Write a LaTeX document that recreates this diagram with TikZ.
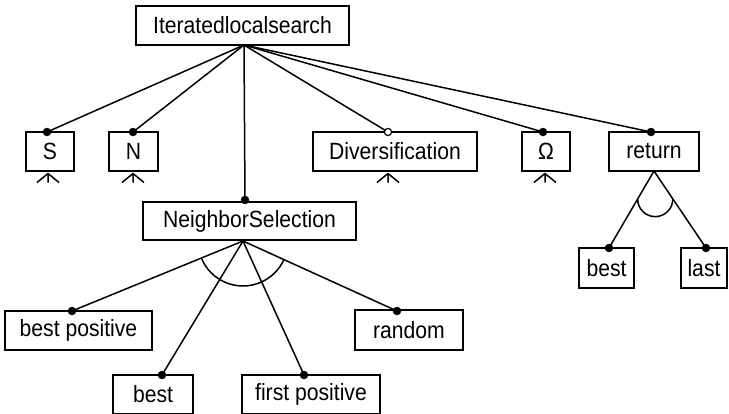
\documentclass[tikz,border=0pt]{standalone}
\usepackage{fontspec}
\setmainfont{Liberation Sans}[FakeStretch=0.9]
\usetikzlibrary{calc}
\begin{document}
\begin{tikzpicture}[x=1pt,y=1pt,
  box/.style={draw,line width=1.4pt,inner sep=0pt,minimum height=39pt,font=\fontsize{23.5}{27}\selectfont},
  conn/.style={line width=1.5pt},
  dotf/.style={fill=black,draw=black},
  doto/.style={fill=white,draw=black,line width=1.2pt}]
\useasboundingbox (0,0) rectangle (729,-413);
% boxes
\node[box,minimum width=213pt] (top) at (242.5,-25.5) {Iteratedlocalsearch};
\node[box,minimum width=48pt] (S) at (50,-151.5) {S};
\node[box,minimum width=49pt] (N) at (133.5,-151.5) {N};
\node[box,minimum width=164pt] (div) at (395,-151.5) {Diversification};
\node[box,minimum width=48pt] (om) at (546,-151.5) {Ω};
\node[box,minimum width=90pt] (ret) at (654,-151.5) {return};
\node[box,minimum width=213pt,minimum height=38pt] (ns) at (249.5,-221) {NeighborSelection};
\node[box,minimum width=147pt] (bp) at (78.5,-330.5) {best positive};
\node[box,minimum width=108pt,minimum height=40pt] (rnd) at (409,-330) {random};
\node[box,minimum width=80pt] (bst) at (153,-394.5) {best};
\node[box,minimum width=138pt] (fp) at (311,-394.5) {first positive};
\node[box,minimum width=55pt,minimum height=40pt] (rb) at (606.5,-268) {best};
\node[box,minimum width=46pt,minimum height=40pt] (rl) at (704,-268) {last};
% attachment points
\coordinate (ta) at (244,-45);
\coordinate (dS) at (47,-132);
\coordinate (dN) at (133,-132);
\coordinate (dD) at (388,-132);
\coordinate (dO) at (543,-132);
\coordinate (dR) at (651,-132);
\coordinate (dNS) at (245,-200);
\coordinate (na) at (243,-241);
\coordinate (dbp) at (72,-311);
\coordinate (drnd) at (397,-311);
\coordinate (dbst) at (162,-375);
\coordinate (dfp) at (304,-375);
\coordinate (ra) at (654,-171);
\coordinate (drb) at (609,-248);
\coordinate (drl) at (706,-248);
% connectors from top
\foreach \t in {dS,dN,dD,dO,dR,dNS} \draw[conn] (ta) -- (\t);
% NeighborSelection children
\foreach \t in {dbp,drnd,dbst,dfp} \draw[conn] (na) -- (\t);
\draw[conn] ($(na)!45pt!(dbp)$) arc[start angle=202.3,end angle=335.6,radius=45pt];
% return children
\foreach \t in {drb,drl} \draw[conn] (ra) -- (\t);
\draw[conn] ($(ra)!0.364!(drb)$) arc[start angle=180,end angle=360,radius=17.6pt];
% dots
\foreach \t in {dS,dN,dO,dR,dNS,dbp,drnd,dbst,dfp,drb,drl} \fill[dotf] (\t) circle (4pt);
\draw[doto] (dD) circle (3.6pt);
% crow's feet
\foreach \xx/\nm in {48/S,133/N,388/div,545/om} {
  \coordinate (cf\nm) at (\xx,-173.5);
  \draw[conn] (cf\nm) -- ++(-11,-9) (cf\nm) -- ++(0,-9) (cf\nm) -- ++(11,-9);
}
\end{tikzpicture}
\end{document}
